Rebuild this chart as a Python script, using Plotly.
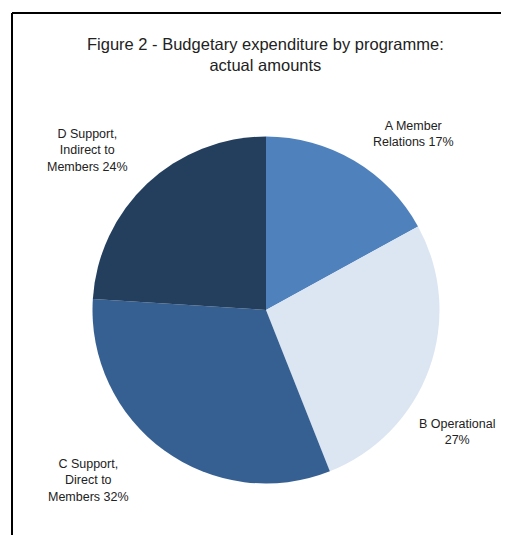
import plotly.graph_objects as go

categories = ["A Member Relations", "B Operational", "C Support, Direct to Members", "D Support, Indirect to Members"]
values = [17, 27, 32, 24]
label_lines = [
    ["A Member", "Relations 17%"],
    ["B Operational", "27%"],
    ["C Support,", "Direct to", "Members 32%"],
    ["D Support,", "Indirect to", "Members 24%"],
]
colors = ["#4F81BD", "#DCE6F2", "#376092", "#243F5E"]
title_text = "Figure 2 - Budgetary expenditure by programme:<br>actual amounts"

# the page body adds an 8px margin; size the figure so it fills the 509x535 window
OFF = 8
W, H = 509 - OFF, 535 - OFF

def px(x, y):
    """Convert window pixel coordinates into paper coordinates."""
    return (x - OFF) / W, 1 - (y - OFF) / H

cx, cy, r = 266, 310, 173.5
fig = go.Figure(go.Pie(
    labels=categories, values=values, sort=False, direction="clockwise", rotation=0,
    marker=dict(colors=colors, line=dict(width=0)), textinfo="none", hoverinfo="label+percent",
    showlegend=False,
    domain=dict(x=[(cx - OFF - r) / W, (cx - OFF + r) / W],
                y=[(H - (cy - OFF) - r) / H, (H - (cy - OFF) + r) / H]),
))

label_pos = [(413, 134), (457, 432), (88, 480), (87, 150)]
annotations = []
for lines, (x, y) in zip(label_lines, label_pos):
    xx, yy = px(x, y)
    annotations.append(dict(text="<br>".join(lines), x=xx, y=yy, xref="paper", yref="paper",
                            showarrow=False, xanchor="center", yanchor="middle",
                            font=dict(family="Liberation Sans, Arial", size=12.5, color="#222222")))
tx, ty = px(265, 54)
annotations.append(dict(text=title_text, x=tx, y=ty, xref="paper", yref="paper", showarrow=False,
                        xanchor="center", yanchor="middle",
                        font=dict(family="Liberation Sans, Arial", size=16.5, color="#222222")))

x0, _ = px(12, 0)
_, y1 = px(0, 13)
shapes = [
    dict(type="line", xref="paper", yref="paper", x0=x0, y0=0, x1=x0, y1=y1, line=dict(color="black", width=2)),
    dict(type="line", xref="paper", yref="paper", x0=x0, y0=y1, x1=1, y1=y1, line=dict(color="black", width=2)),
]

fig.update_layout(width=W, height=H, margin=dict(l=0, r=0, t=0, b=0),
                  paper_bgcolor="white", plot_bgcolor="white",
                  annotations=annotations, shapes=shapes)
fig.write_html("out.html")
